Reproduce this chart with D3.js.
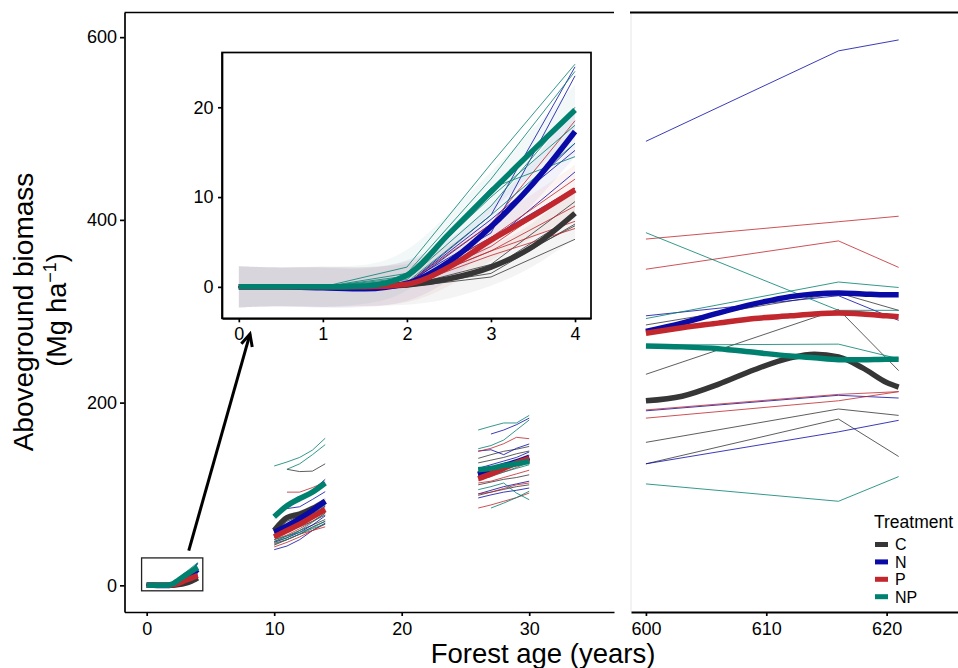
<!DOCTYPE html>
<html lang="en">
  <head>
    <meta charset="utf-8">
    <title>Aboveground biomass by forest age</title>
    <script src="https://d3js.org/d3.v7.min.js" charset="utf-8"></script>
    <style>
      body { margin: 0; background: #fff; }
      text { font-family: "Liberation Sans", Arial, sans-serif; fill: #000; }
    </style>
  </head>
  <body>
    <script type="text/javascript">
      var treatments = ["C", "N", "P", "NP"];
      var colors = ["#363636", "#0a0aa6", "#c1272d", "#00806f"];

      // young stands, 0-4 years (shown in the inset)
      var youngAges = [0, 1, 2, 3, 4];
      var youngPlots = [
        ["C", [0, 0, 0.1, 2.5, 9.5]],
        ["C", [0, 0, 0.1, 2.0, 8.0]],
        ["C", [0, 0, 0.0, 1.5, 7.0]],
        ["C", [0, 0, 0.0, 1.1, 5.3]],
        ["C", [0, 0, 0.1, 2.0, 6.8]],
        ["N", [0, 0, 0.3, 8.0, 24.5]],
        ["N", [0, 0, 0.5, 6.0, 23.5]],
        ["N", [0, 0, 0.2, 7.0, 16.0]],
        ["N", [0, 0, 0.3, 7.5, 15.2]],
        ["N", [0, 0, 0.1, 5.0, 12.8]],
        ["N", [0, 0, 0.2, 5.5, 11.0]],
        ["P", [0, 0, 0.4, 7.0, 18.5]],
        ["P", [0, 0, 0.3, 5.5, 12.0]],
        ["P", [0, 0, 0.2, 4.5, 11.0]],
        ["P", [0, 0, 0.2, 4.0, 7.3]],
        ["P", [0, 0, 0.1, 3.5, 6.5]],
        ["P", [0, 0, 0.2, 4.0, 9.0]],
        ["NP", [0, 0, 2.2, 13.7, 24.8]],
        ["NP", [0, 0, 1.5, 12.0, 24.0]],
        ["NP", [0, 0, 1.0, 11.0, 14.5]],
        ["NP", [0, 0, 0.8, 9.0, 20.0]],
        ["NP", [0, 0, 0.5, 8.0, 16.0]],
        ["NP", [0, 0, 1.2, 10.0, 18.0]]
      ];
      var youngFitAges = [0, 0.5, 1, 1.5, 2, 2.5, 3, 3.5, 4];
      var youngFit = [
        ["C", [0, 0, 0, 0, 0.2, 0.9, 2.2, 4.5, 8.2]],
        ["N", [0, 0, -0.1, -0.2, 0.4, 2.8, 6.7, 11.5, 17.3]],
        ["P", [0, 0, 0, 0, 0.3, 2.2, 5.2, 7.9, 10.8]],
        ["NP", [0, 0, 0, 0.1, 1.3, 5.9, 10.6, 15.2, 19.7]]
      ];
      var youngSE = [2.3, 2.1, 2.3, 2.1, 2.3, 2.3, 2.2, 2.4, 2.8];

      // 10-14 years
      var midAges = [10, 11, 12, 13, 14];
      var midPlots = [
        ["C", [null, 127, 124.5, 125, 133]],
        ["C", [58, 70, 76, 82, 90]],
        ["C", [52, 58, 64, 70, 77]],
        ["C", [48, 54, 60, 66, 72]],
        ["C", [44, 50, 56, 64, 70]],
        ["N", [76, 86, 96, 104, 116]],
        ["N", [null, 84, 86, 94, 102.5]],
        ["N", [60, 66, 73, 80, 90]],
        ["N", [56, 63, 71, 80, 93]],
        ["N", [39, 43, 50, 60, 68]],
        ["N", [47, 52, 58, 66, 76]],
        ["N", [55, 60, 67, 76, 87]],
        ["P", [null, 102, 102, 107, 113]],
        ["P", [53, 60, 66, 74, 83]],
        ["P", [46, 50, 56, 60, 64]],
        ["P", [58, 62, 70, 78, 86]],
        ["P", [50, 55, 62, 70, 79]],
        ["P", [42, 47, 53, 60, 67]],
        ["NP", [130.6, 135, 140, 148, 161]],
        ["NP", [null, 127, 133, 143, 154]],
        ["NP", [76, 85, 93, 101, 110]],
        ["NP", [62, 66, 71, 78, 88]],
        ["NP", [50, 54, 58, 63, 70]],
        ["NP", [45, 50, 56, 62, 67]],
        ["NP", [48, 52, 60, 69, 79]]
      ];
      var midFit = [
        ["C", [60, 74, 78, 84, 92]],
        ["N", [58, 65, 73, 82, 92]],
        ["P", [53, 60, 67, 75, 83]],
        ["NP", [75, 87, 95, 102, 112]]
      ];
      var midSE = [4, 3.5, 3.5, 3.5, 4];

      // 26-30 years
      var oldAges = [26, 27, 28, 29, 30];
      var oldPlots = [
        ["C", [139, 143, 146.7, 149, 152]],
        ["C", [134, 137, 140, 144, 147]],
        ["C", [110, 113, 116, 118, 121]],
        ["C", [98.5, 102, 105, 108, 110]],
        ["C", [120, 124, 128, 131, 135]],
        ["N", [null, 165.6, 170, 175.8, 183]],
        ["N", [147, 148.4, 143, 150, 154.7]],
        ["N", [95.6, 99, 102, 104, 106.5]],
        ["N", [100, 104, 108, 111, 114]],
        ["N", [122, 126, 130, 135, 142]],
        ["N", [128, 132, 136, 140, 146]],
        ["P", [146.6, 150, 155, 162, 160.5]],
        ["P", [84.6, 88, 92, 96, 101]],
        ["P", [115, 119, 124, 129, 135]],
        ["P", [112, 114, 118, 122, 126]],
        ["P", [100, 102, 106, 110, 112]],
        ["NP", [170, 174, 177.7, 177.7, 186]],
        ["NP", [149.5, 153, 159, 170, 181]],
        ["NP", [104.7, 108, 112, 101, 93.7]],
        ["NP", [null, 84.6, 90, 96, 103]],
        ["NP", [127, 129, 132, 134, 137]],
        ["NP", [118, 120, 124, 128, 132]]
      ];
      var oldFit = [
        ["C", [122, 126, 130, 134, 137]],
        ["N", [121, 126, 131, 135, 140]],
        ["P", [116.7, 122, 128, 134, 139]],
        ["NP", [126.6, 128, 131, 133, 135.7]]
      ];
      var oldSE = [4, 3.5, 3.5, 3.5, 4];

      // 600-621 years
      var ancientAges = [600, 616, 621];
      var ancientPlots = [
        ["C", [285, 320, 301]],
        ["C", [231, 302, 235]],
        ["C", [156.5, 193, 186]],
        ["C", [133, 182, 141]],
        ["N", [486, 585, 597]],
        ["N", [295, 317, 290]],
        ["N", [191, 208, 205]],
        ["N", [133, 168, 180.6]],
        ["P", [379, 398, 404]],
        ["P", [346, 377, 348]],
        ["P", [192, 209, 212]],
        ["P", [183, 202, 212]],
        ["NP", [386, 301, 301]],
        ["NP", [292, 332, 326]],
        ["NP", [263, 264, 248]],
        ["NP", [111, 92, 119]]
      ];
      var ancientFitAges = [600, 603, 606, 609, 612, 614, 616, 618, 620, 621];
      var ancientFit = [
        ["C", [202, 207, 220, 236, 249, 253, 250, 238, 222, 217]],
        ["N", [278, 287, 298, 308, 316, 319, 320, 319, 318, 318]],
        ["P", [276, 282, 287, 292, 295, 297, 298, 297, 295, 294]],
        ["NP", [262, 261, 259, 255, 251, 249, 247, 247, 247.5, 247.5]]
      ];

      var mainTicks = [0, 200, 400, 600];
      var leftXTicks = [0, 10, 20, 30];
      var rightXTicks = [600, 610, 620];
      var insetYTicks = [0, 10, 20];
      var insetXTicks = [0, 1, 2, 3, 4];

      var color = d3.scaleOrdinal().domain(treatments).range(colors);

      var svg = d3.select("body").append("svg")
                  .attr("width", 958)
                  .attr("height", 668);

      var y = d3.scaleLinear().domain([-29.2, 627]).range([612, 12.5]);
      var xLeft = d3.scaleLinear().domain([-1.74, 36.65]).range([124.5, 614]);
      var xRight = d3.scaleLinear().domain([598.76, 625.93]).range([631, 958]);
      var xIn = d3.scaleLinear().domain([-0.2, 4.19]).range([222, 591]);
      var yIn = d3.scaleLinear().domain([-3.5, 26.1]).range([318.3, 52.5]);

      function drawGroup(g, xs, ys, ages, plots, fitAges, fit, se, bandOpacity) {
        var line = d3.line()
                     .defined(function(d){ return d[1] != null; })
                     .x(function(d){ return xs(d[0]); })
                     .y(function(d){ return ys(d[1]); });
        var smooth = d3.line()
                       .curve(d3.curveMonotoneX)
                       .x(function(d){ return xs(d[0]); })
                       .y(function(d){ return ys(d[1]); });

        if (se) {
          var band = d3.area()
                       .curve(d3.curveBasis)
                       .x(function(d){ return xs(d[0]); })
                       .y0(function(d){ return ys(d[1] - d[2]); })
                       .y1(function(d){ return ys(d[1] + d[2]); });
          fit.forEach(function(f){
            g.append("path")
             .datum(f[1].map(function(v, i){ return [fitAges[i], v, se[i]]; }))
             .attr("d", band)
             .attr("fill", color(f[0]))
             .attr("fill-opacity", bandOpacity || 0.07);
          });
        }

        plots.forEach(function(p){
          g.append("path")
           .datum(ages.map(function(a, i){ return [a, p[1][i]]; }))
           .attr("d", line)
           .attr("fill", "none")
           .attr("stroke", color(p[0]))
           .attr("stroke-opacity", 0.8)
           .attr("stroke-width", 1);
        });

        fit.forEach(function(f){
          g.append("path")
           .datum(f[1].map(function(v, i){ return [fitAges[i], v]; }))
           .attr("d", smooth)
           .attr("fill", "none")
           .attr("stroke", color(f[0]))
           .attr("stroke-width", 5.5);
        });
      }

      function styleAxis(sel) {
        sel.selectAll("path, line").attr("stroke", "#000").attr("stroke-width", 1.7);
        sel.selectAll("text").style("font-size", "18px").attr("fill", "#000");
        sel.attr("font-family", null);
      }

      // ---- left panel ----
      var left = svg.append("g");
      drawGroup(left, xLeft, y, youngAges, youngPlots, youngFitAges, youngFit, youngSE);
      drawGroup(left, xLeft, y, midAges, midPlots, midAges, midFit, midSE, 0.1);
      drawGroup(left, xLeft, y, oldAges, oldPlots, oldAges, oldFit, oldSE, 0.1);

      // small box around the young stands
      left.append("rect")
          .attr("x", xLeft(-0.4))
          .attr("y", y(30))
          .attr("width", xLeft(4.4) - xLeft(-0.4))
          .attr("height", y(-6) - y(30))
          .attr("fill", "none")
          .attr("stroke", "#222")
          .attr("stroke-width", 1.3);

      left.append("line")
          .attr("x1", xLeft(-1.74)).attr("x2", xLeft(36.65))
          .attr("y1", 12.5).attr("y2", 12.5)
          .attr("stroke", "#000").attr("stroke-width", 1.7);

      left.append("g")
          .attr("transform", "translate(124.5,0)")
          .call(d3.axisLeft(y).tickValues(mainTicks).tickSize(4.5).tickSizeOuter(0).tickPadding(3))
          .call(styleAxis);

      left.append("g")
          .attr("transform", "translate(0,612)")
          .call(d3.axisBottom(xLeft).tickValues(leftXTicks).tickSize(4).tickSizeOuter(0).tickPadding(6))
          .call(styleAxis);

      // ---- right panel ----
      var right = svg.append("g");
      right.append("line")
           .attr("x1", 631).attr("x2", 631)
           .attr("y1", 12.5).attr("y2", 612)
           .attr("stroke", "#e6e6e6").attr("stroke-width", 1);
      drawGroup(right, xRight, y, ancientAges, ancientPlots, ancientFitAges, ancientFit, null);
      right.append("line")
           .attr("x1", 630).attr("x2", 958)
           .attr("y1", 12.5).attr("y2", 12.5)
           .attr("stroke", "#000").attr("stroke-width", 2);
      right.append("g")
           .attr("transform", "translate(0,612)")
           .call(d3.axisBottom(xRight).tickValues(rightXTicks).tickSize(4).tickSizeOuter(0).tickPadding(6))
           .call(styleAxis);
      right.select(".domain").attr("stroke-width", 2);

      // ---- inset ----
      var inset = svg.append("g");
      inset.append("rect")
           .attr("x", 222).attr("y", 52.5)
           .attr("width", 591 - 222).attr("height", 318.3 - 52.5)
           .attr("fill", "#fff");
      drawGroup(inset, xIn, yIn, youngAges, youngPlots, youngFitAges, youngFit, youngSE, 0.055);
      inset.append("rect")
           .attr("x", 222).attr("y", 52.5)
           .attr("width", 591 - 222).attr("height", 318.3 - 52.5)
           .attr("fill", "none")
           .attr("stroke", "#000")
           .attr("stroke-width", 1.7);
      inset.append("g")
           .attr("transform", "translate(222,0)")
           .call(d3.axisLeft(yIn).tickValues(insetYTicks).tickSize(4).tickSizeOuter(0).tickPadding(4.5))
           .call(styleAxis);
      inset.append("g")
           .attr("transform", "translate(0,318.3)")
           .call(d3.axisBottom(xIn).tickValues(insetXTicks).tickFormat(d3.format("d"))
                   .tickSize(4).tickSizeOuter(0).tickPadding(4.5))
           .call(styleAxis);

      // arrow from the small box to the inset
      var ax1 = xLeft(3.3), ay1 = y(38), ax2 = xLeft(8.1), ay2 = y(275);
      var ang = Math.atan2(ay2 - ay1, ax2 - ax1);
      svg.append("line")
         .attr("x1", ax1).attr("y1", ay1).attr("x2", ax2).attr("y2", ay2)
         .attr("stroke", "#000").attr("stroke-width", 3);
      svg.append("path")
         .attr("d", "M" + (ax2 - 13 * Math.cos(ang - 0.45)) + "," + (ay2 - 13 * Math.sin(ang - 0.45)) +
                    "L" + ax2 + "," + ay2 +
                    "L" + (ax2 - 13 * Math.cos(ang + 0.45)) + "," + (ay2 - 13 * Math.sin(ang + 0.45)))
         .attr("fill", "none")
         .attr("stroke", "#000")
         .attr("stroke-width", 3);

      // ---- titles ----
      svg.append("text")
         .attr("x", 543).attr("y", 663)
         .attr("text-anchor", "middle")
         .style("font-size", "27.5px")
         .text("Forest age (years)");

      svg.append("text")
         .attr("transform", "translate(33,312) rotate(-90)")
         .attr("text-anchor", "middle")
         .style("font-size", "28px")
         .text("Aboveground biomass");

      var yl2 = svg.append("text")
         .attr("transform", "translate(66,310) rotate(-90)")
         .attr("text-anchor", "middle")
         .style("font-size", "27px");
      yl2.append("tspan").text("(Mg ha");
      yl2.append("tspan").attr("dy", -10).style("font-size", "18px").text("\u22121");
      yl2.append("tspan").attr("dy", 10).text(")");

      // ---- legend ----
      var legend = svg.append("g");
      legend.append("text")
            .attr("x", 874).attr("y", 528)
            .style("font-size", "17.5px")
            .text("Treatment");
      treatments.forEach(function(t, i){
        var cy = 544.5 + i * 17.4;
        legend.append("line")
              .attr("x1", 875).attr("x2", 888)
              .attr("y1", cy).attr("y2", cy)
              .attr("stroke", color(t))
              .attr("stroke-width", 5);
        legend.append("text")
              .attr("x", 895).attr("y", cy + 5.8)
              .style("font-size", "16px")
              .text(t);
      });
    </script>
  </body>
</html>
